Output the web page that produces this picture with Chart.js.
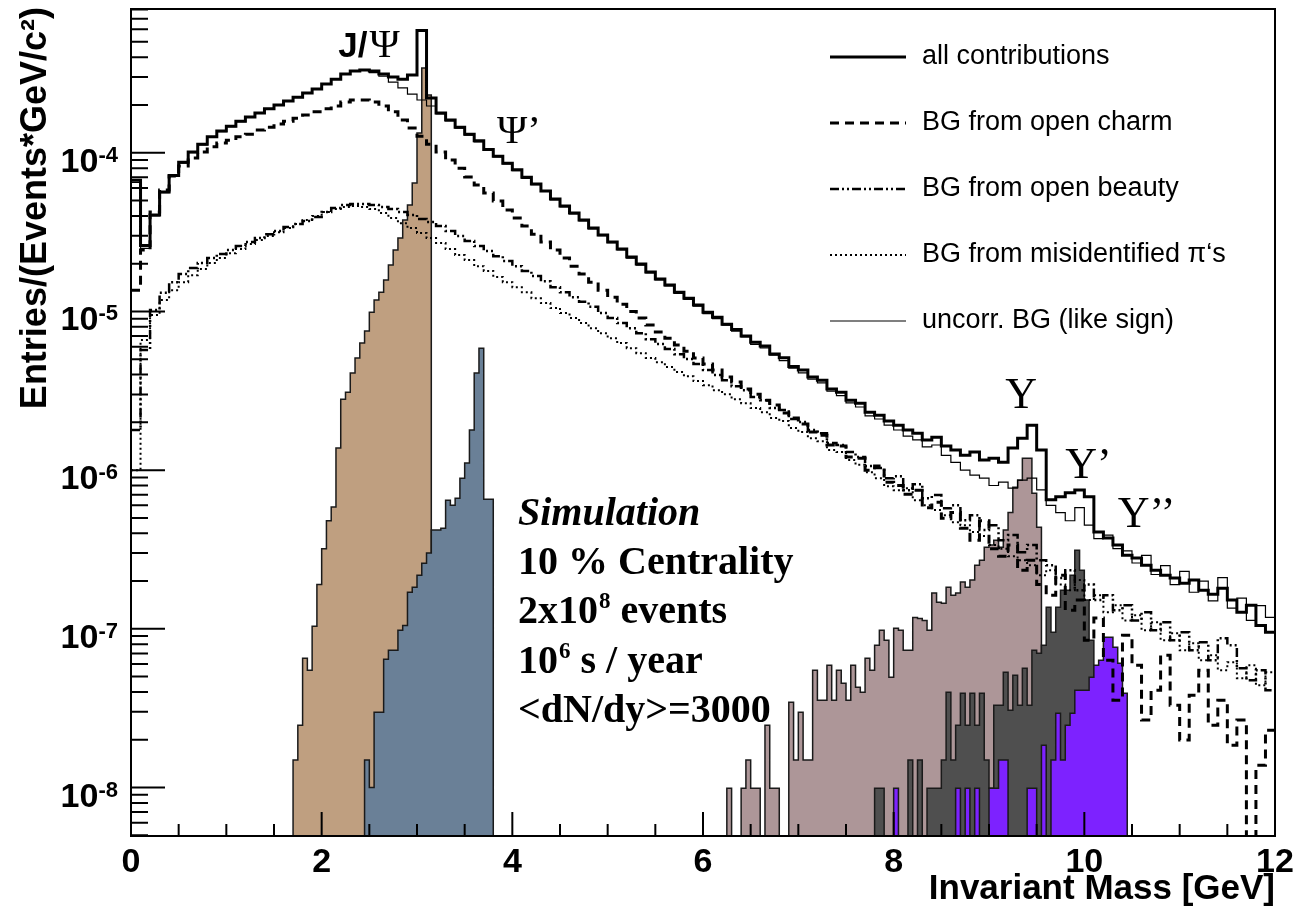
<!DOCTYPE html>
<html>
<head>
<meta charset="utf-8">
<title>Dilepton invariant mass spectrum</title>
<script src="https://cdn.jsdelivr.net/npm/chart.js@4.4.1/dist/chart.umd.min.js"></script>
<style>
  html, body { margin: 0; padding: 0; background: #fff; }
  canvas { display: block; }
</style>
</head>
<body>
<canvas id="massChart" width="1296" height="914"></canvas>
<script>
// background curves: 0.1 GeV bins starting at 0 GeV
const bgStart = 0, bgWidth = 0.1;
// signal peaks: 0.05 GeV bins
const sigWidth = 0.05;

const allContrib = [
  6.7e-5, 2.6e-5, 4.05e-5, 5.65e-5, 7.2e-5, 8.7e-5, 1.01e-4, 1.13e-4, 1.26e-4, 1.37e-4,
  1.47e-4, 1.58e-4, 1.68e-4, 1.78e-4, 1.89e-4, 2.0e-4, 2.12e-4, 2.24e-4, 2.38e-4, 2.52e-4,
  2.71e-4, 2.91e-4, 3.13e-4, 3.27e-4, 3.32e-4, 3.27e-4, 3.13e-4, 3.0e-4, 2.91e-4, 3.09e-4,
  5.9e-4, 2.21e-4, 1.78e-4, 1.61e-4, 1.45e-4, 1.31e-4, 1.19e-4, 1.05e-4, 9.5e-5, 8.6e-5,
  7.8e-5, 7.0e-5, 6.35e-5, 5.74e-5, 5.11e-5, 4.61e-5, 4.17e-5, 3.77e-5, 3.35e-5, 3.03e-5,
  2.74e-5, 2.47e-5, 2.2e-5, 1.99e-5, 1.77e-5, 1.6e-5, 1.47e-5, 1.32e-5, 1.21e-5, 1.1e-5,
  9.9e-6, 9.2e-6, 8.3e-6, 7.7e-6, 7.0e-6, 6.4e-6, 6.05e-6, 5.4e-6, 5.1e-6, 4.5e-6,
  4.27e-6, 3.86e-6, 3.69e-6, 3.24e-6, 3.1e-6, 2.76e-6, 2.64e-6, 2.32e-6, 2.22e-6, 2.04e-6,
  1.92e-6, 1.79e-6, 1.71e-6, 1.55e-6, 1.61e-6, 1.42e-6, 1.34e-6, 1.24e-6, 1.3e-6, 1.16e-6,
  1.19e-6, 1.12e-6, 1.38e-6, 1.59e-6, 1.92e-6, 1.34e-6, 6.5e-7, 6.8e-7, 7.2e-7, 7.5e-7,
  6.8e-7, 4.07e-7, 3.73e-7, 3.37e-7, 2.91e-7, 2.79e-7, 2.52e-7, 2.34e-7, 2.18e-7, 2.09e-7,
  1.94e-7, 2.03e-7, 1.75e-7, 1.65e-7, 1.8e-7, 1.52e-7, 1.27e-7, 1.41e-7, 1.05e-7, 9.5e-8
];

const openCharm = [
  1.36e-5, 2.44e-5, 4.23e-5, 5.82e-5, 7.13e-5, 8.25e-5, 9.26e-5, 1.01e-4, 1.09e-4, 1.15e-4,
  1.2e-4, 1.26e-4, 1.31e-4, 1.39e-4, 1.45e-4, 1.52e-4, 1.58e-4, 1.65e-4, 1.73e-4, 1.81e-4,
  1.89e-4, 1.97e-4, 2.09e-4, 2.15e-4, 2.15e-4, 2.09e-4, 1.97e-4, 1.81e-4, 1.61e-4, 1.43e-4,
  1.27e-4, 1.13e-4, 1.01e-4, 9.0e-5, 8.0e-5, 7.03e-5, 6.26e-5, 5.57e-5, 4.96e-5, 4.35e-5,
  3.88e-5, 3.45e-5, 3.07e-5, 2.74e-5, 2.44e-5, 2.17e-5, 1.93e-5, 1.72e-5, 1.53e-5, 1.36e-5,
  1.23e-5, 1.11e-5, 1.0e-5, 9.08e-6, 8.2e-6, 7.41e-6, 6.79e-6, 6.14e-6, 5.62e-6, 5.08e-6,
  4.66e-6, 4.27e-6, 3.86e-6, 3.59e-6, 3.24e-6, 3.01e-6, 2.76e-6, 2.57e-6, 2.29e-6, 2.13e-6,
  1.95e-6, 1.74e-6, 1.66e-6, 1.44e-6, 1.42e-6, 1.21e-6, 1.19e-6, 1.0e-6, 1.06e-6, 8.4e-7,
  8.0e-7, 7.06e-7, 7.48e-7, 5.8e-7, 6.28e-7, 4.98e-7, 5.4e-7, 4.31e-7, 3.62e-7, 4.8e-7,
  3.2e-7, 2.87e-7, 3.37e-7, 2.34e-7, 2.71e-7, 1.9e-7, 1.63e-7, 2.18e-7, 1.31e-7, 1.52e-7,
  8.48e-8, 1.17e-7, 6.34e-8, 3.55e-8, 9.12e-8, 5.9e-8, 2.66e-8, 4.1e-8, 6.82e-8, 3.3e-8,
  1.99e-8, 3.82e-8, 5.49e-8, 2.47e-8, 3.55e-8, 1.85e-8, 2.66e-8, 0, 1.38e-8, 2.3e-8
];

const openBeauty = [
  1.79e-6, 5.71e-6, 1.02e-5, 1.31e-5, 1.53e-5, 1.72e-5, 1.88e-5, 2.02e-5, 2.17e-5, 2.3e-5,
  2.44e-5, 2.58e-5, 2.74e-5, 2.9e-5, 3.07e-5, 3.21e-5, 3.4e-5, 3.55e-5, 3.71e-5, 3.93e-5,
  4.23e-5, 4.48e-5, 4.68e-5, 4.75e-5, 4.75e-5, 4.68e-5, 4.55e-5, 4.42e-5, 4.23e-5, 4.05e-5,
  3.82e-5, 3.66e-5, 3.45e-5, 3.21e-5, 2.99e-5, 2.78e-5, 2.58e-5, 2.4e-5, 2.23e-5, 2.08e-5,
  1.93e-5, 1.8e-5, 1.67e-5, 1.55e-5, 1.42e-5, 1.32e-5, 1.23e-5, 1.15e-5, 1.07e-5, 9.76e-6,
  9.08e-6, 8.45e-6, 7.85e-6, 7.3e-6, 6.69e-6, 6.23e-6, 5.79e-6, 5.38e-6, 5.01e-6, 4.66e-6,
  4.27e-6, 3.97e-6, 3.69e-6, 3.38e-6, 3.19e-6, 2.89e-6, 2.76e-6, 2.46e-6, 2.39e-6, 2.1e-6,
  2.01e-6, 1.79e-6, 1.71e-6, 1.48e-6, 1.44e-6, 1.3e-6, 1.21e-6, 1.06e-6, 1.03e-6, 8.9e-7,
  9.16e-7, 7.48e-7, 8.16e-7, 6.66e-7, 6.96e-7, 5.76e-7, 6.0e-7, 4.84e-7, 5.2e-7, 4.19e-7,
  4.5e-7, 3.62e-7, 3.9e-7, 3.04e-7, 3.37e-7, 2.71e-7, 2.52e-7, 2.09e-7, 2.34e-7, 1.75e-7,
  1.9e-7, 1.52e-7, 1.63e-7, 1.31e-7, 1.41e-7, 1.13e-7, 1.27e-7, 9.8e-8, 1.1e-7, 8.48e-8,
  9.5e-8, 7.34e-8, 8.24e-8, 6.34e-8, 8.73e-8, 7.89e-8, 5.65e-8, 4.75e-8, 5.49e-8, 4.1e-8
];

const misidPions = [
  1.0e-6, 6.6e-6, 9.48e-6, 1.18e-5, 1.36e-5, 1.53e-5, 1.69e-5, 1.85e-5, 2.02e-5, 2.17e-5,
  2.33e-5, 2.47e-5, 2.66e-5, 2.82e-5, 2.99e-5, 3.16e-5, 3.35e-5, 3.55e-5, 3.77e-5, 3.99e-5,
  4.23e-5, 4.42e-5, 4.55e-5, 4.61e-5, 4.55e-5, 4.42e-5, 4.17e-5, 3.88e-5, 3.6e-5, 3.35e-5,
  3.12e-5, 2.9e-5, 2.7e-5, 2.47e-5, 2.27e-5, 2.11e-5, 1.93e-5, 1.8e-5, 1.65e-5, 1.53e-5,
  1.42e-5, 1.32e-5, 1.21e-5, 1.13e-5, 1.05e-5, 9.76e-6, 9.08e-6, 8.45e-6, 7.85e-6, 7.3e-6,
  6.79e-6, 6.32e-6, 5.87e-6, 5.46e-6, 5.08e-6, 4.79e-6, 4.46e-6, 4.15e-6, 3.91e-6, 3.64e-6,
  3.43e-6, 3.19e-6, 3.01e-6, 2.8e-6, 2.64e-6, 2.46e-6, 2.32e-6, 2.13e-6, 2.04e-6, 1.84e-6,
  1.74e-6, 1.59e-6, 1.52e-6, 1.34e-6, 1.3e-6, 1.16e-6, 1.08e-6, 9.71e-7, 8.9e-7, 7.93e-7,
  7.48e-7, 7.7e-7, 6.47e-7, 6.0e-7, 5.6e-7, 5.2e-7, 4.7e-7, 4.5e-7, 4.07e-7, 3.84e-7,
  3.37e-7, 3.2e-7, 2.87e-7, 2.71e-7, 2.52e-7, 2.18e-7, 2.34e-7, 1.9e-7, 1.75e-7, 2.03e-7,
  1.52e-7, 1.63e-7, 1.27e-7, 1.41e-7, 1.13e-7, 1.22e-7, 9.8e-8, 1.1e-7, 8.48e-8, 9.39e-8,
  7.34e-8, 8.12e-8, 6.34e-8, 6.82e-8, 5.49e-8, 6.16e-8, 4.89e-8, 5.9e-8, 4.41e-8, 5.33e-8
];

const uncorrLikeSign = [
  6.5e-5, 2.5e-5, 4.0e-5, 5.6e-5, 7.1e-5, 8.6e-5, 1.0e-4, 1.12e-4, 1.25e-4, 1.36e-4,
  1.46e-4, 1.57e-4, 1.67e-4, 1.77e-4, 1.88e-4, 1.99e-4, 2.11e-4, 2.23e-4, 2.37e-4, 2.51e-4,
  2.7e-4, 2.9e-4, 3.12e-4, 3.26e-4, 3.3e-4, 3.2e-4, 3.04e-4, 2.79e-4, 2.56e-4, 2.34e-4,
  2.15e-4, 1.97e-4, 1.76e-4, 1.59e-4, 1.43e-4, 1.29e-4, 1.17e-4, 1.04e-4, 9.4e-5, 8.5e-5,
  7.7e-5, 6.9e-5, 6.3e-5, 5.7e-5, 5.05e-5, 4.55e-5, 4.12e-5, 3.72e-5, 3.31e-5, 3.0e-5,
  2.71e-5, 2.44e-5, 2.17e-5, 1.96e-5, 1.75e-5, 1.58e-5, 1.45e-5, 1.3e-5, 1.19e-5, 1.08e-5,
  9.7e-6, 9.0e-6, 8.2e-6, 7.5e-6, 6.9e-6, 6.2e-6, 5.9e-6, 5.3e-6, 4.9e-6, 4.4e-6,
  4.1e-6, 3.75e-6, 3.55e-6, 3.15e-6, 2.95e-6, 2.65e-6, 2.5e-6, 2.2e-6, 2.1e-6, 1.92e-6,
  1.79e-6, 1.64e-6, 1.55e-6, 1.4e-6, 1.44e-6, 1.24e-6, 1.12e-6, 1.0e-6, 9.3e-7, 8.9e-7,
  8.0e-7, 8.4e-7, 7.7e-7, 8.65e-7, 8.9e-7, 7.5e-7, 6.0e-7, 5.4e-7, 4.8e-7, 5.8e-7,
  4.5e-7, 3.7e-7, 3.9e-7, 3.2e-7, 3.1e-7, 2.6e-7, 2.9e-7, 2.2e-7, 2.5e-7, 1.9e-7,
  2.3e-7, 1.7e-7, 2.0e-7, 1.5e-7, 2.1e-7, 1.35e-7, 1.56e-7, 1.13e-7, 1.4e-7, 1.18e-7
];

// J/psi signal, bins from 1.70 GeV
const jpsiStart = 1.70;
const jpsiSignal = [
  1.49e-8, 2.47e-8, 6.53e-8, 5.49e-8, 1.04e-7, 1.9e-7, 3.2e-7, 4.8e-7, 5.85e-7, 1.38e-6,
  2.8e-6, 3.1e-6, 4.09e-6, 5.08e-6, 6.32e-6, 7.52e-6, 9.9e-6, 1.18e-5, 1.32e-5, 1.58e-5,
  1.96e-5, 2.44e-5, 2.9e-5, 3.77e-5, 4.68e-5, 6.44e-5, 1.33e-4, 3.42e-4, 2.31e-4
];

// psi' signal, bins from 2.45 GeV
const psiPrimeStart = 2.45;
const psiPrimeSignal = [
  1.49e-8, 1.0e-8, 2.98e-8, 2.98e-8, 6.44e-8, 7.34e-8, 7.34e-8, 9.8e-8, 1.05e-7, 1.7e-7,
  1.83e-7, 2.18e-7, 2.59e-7, 3.0e-7, 4.19e-7, 4.19e-7, 4.31e-7, 6.47e-7, 6.0e-7, 6.66e-7,
  8.9e-7, 1.11e-6, 1.79e-6, 4.09e-6, 5.87e-6, 6.56e-7, 6.56e-7
];

// Upsilon(1S), bins from 6.25 GeV
const ups1Start = 6.25;
const ups1Signal = [
  9.9e-9, 0, 0, 9.9e-9, 1.49e-8, 9.9e-9, 9.9e-9, 0, 2.47e-8, 9.9e-9,
  9.9e-9, 0, 0, 3.45e-8, 1.49e-8, 2.98e-8, 1.49e-8, 1.49e-8, 5.49e-8, 3.55e-8,
  3.55e-8, 5.9e-8, 3.55e-8, 5.49e-8, 4.54e-8, 3.55e-8, 5.9e-8, 4.29e-8, 3.99e-8, 6.53e-8,
  5.49e-8, 7.89e-8, 9.8e-8, 8.48e-8, 4.96e-8, 1.01e-7, 9.8e-8, 7.34e-8, 7.34e-8, 1.18e-7,
  1.16e-7, 1.13e-7, 9.8e-8, 1.68e-7, 1.47e-7, 1.45e-7, 1.83e-7, 1.63e-7, 1.68e-7, 1.97e-7,
  1.83e-7, 2.03e-7, 2.52e-7, 2.71e-7, 3.27e-7, 3.37e-7, 3.62e-7, 3.27e-7, 4.19e-7, 5.4e-7,
  7.81e-7, 8.65e-7, 1.19e-6, 1.19e-6, 7.16e-7, 4.37e-7
];

// Upsilon(2S), bins from 7.80 GeV
const ups2Start = 7.80;
const ups2Signal = [
  9.9e-9, 9.9e-9, 0, 0, 0, 0, 0, 1.49e-8, 0, 1.49e-8,
  0, 9.9e-9, 9.9e-9, 9.9e-9, 1.49e-8, 3.99e-8, 1.49e-8, 2.47e-8, 3.93e-8, 2.47e-8,
  3.93e-8, 2.47e-8, 3.93e-8, 1.49e-8, 9.9e-9, 3.3e-8, 3.3e-8, 5.33e-8, 3.07e-8, 5.1e-8,
  3.3e-8, 5.65e-8, 3.3e-8, 7.34e-8, 7.02e-8, 7.89e-8, 1.37e-7, 9.5e-8, 1.37e-7, 1.75e-7,
  1.75e-7, 2.18e-7, 3.13e-7, 2.34e-7, 1.52e-7, 8.48e-8, 3.55e-8
];

// Upsilon(3S), bins from 8.00 GeV
const ups3Start = 8.00;
const ups3Signal = [
  9.9e-9, 0, 0, 0, 0, 0, 0, 0, 0, 0,
  0, 0, 0, 9.9e-9, 0, 9.9e-9, 0, 9.9e-9, 0, 0,
  9.9e-9, 9.9e-9, 1.49e-8, 1.49e-8, 0, 0, 0, 0, 9.9e-9, 9.9e-9,
  0, 1.85e-8, 0, 1.49e-8, 2.94e-8, 1.49e-8, 2.47e-8, 2.94e-8, 4.1e-8, 4.1e-8,
  4.1e-8, 4.96e-8, 5.9e-8, 6.34e-8, 8.86e-8, 8.86e-8, 7.66e-8, 6.07e-8, 3.93e-8
];

const xTickValues = [0, 2, 4, 6, 8, 10, 12];
const yTickPowers = [-8, -7, -6, -5, -4];
const legendLabels = ['all contributions', 'BG from open charm', 'BG from open beauty',
  'BG from misidentified \u03c0\u2018s', 'uncorr. BG (like sign)'];

const FLOOR = 1e-12; // empty bins sit below the axis minimum

function histLine(start, width, values) {
  const pts = values.map((v, i) => ({ x: start + i * width, y: v > 0 ? v : FLOOR }));
  pts.push({ x: start + values.length * width, y: pts[pts.length - 1].y });
  return pts;
}
function histFilled(start, width, values) {
  const pts = histLine(start, width, values);
  pts[pts.length - 1].y = FLOOR;
  pts.unshift({ x: start, y: FLOOR });
  return pts;
}

function lineSet(label, values, width, dash, order) {
  return {
    label, data: histLine(bgStart, bgWidth, values), borderColor: '#000', borderWidth: width,
    borderDash: dash, fill: false, stepped: true, pointRadius: 0, order, clip: 0,
    borderCapStyle: 'butt', borderJoinStyle: 'miter'
  };
}
function fillSet(label, start, values, color, order) {
  return {
    label, data: histFilled(start, sigWidth, values), borderColor: '#1a1a1a', borderWidth: 1.5,
    backgroundColor: color, fill: 'start', stepped: true, pointRadius: 0, order, clip: 0
  };
}

const datasets = [
  lineSet(legendLabels[0], allContrib, 3, [], 0),
  lineSet(legendLabels[4], uncorrLikeSign, 1.2, [], 1),
  lineSet(legendLabels[1], openCharm, 3, [9, 6], 2),
  lineSet(legendLabels[2], openBeauty, 2.5, [9, 3, 2, 3, 2, 3], 3),
  lineSet(legendLabels[3], misidPions, 2, [2, 3], 4),
  fillSet('Upsilon(3S)', ups3Start, ups3Signal, '#7d22ff', 5),
  fillSet('Upsilon(2S)', ups2Start, ups2Signal, '#4f4f4f', 6),
  fillSet('Upsilon(1S)', ups1Start, ups1Signal, '#ad9698', 7),
  fillSet('psi(2S)', psiPrimeStart, psiPrimeSignal, '#6a8097', 8),
  fillSet('J/psi', jpsiStart, jpsiSignal, '#bf9f80', 9)
];

const SANS = '"Liberation Sans", Arial, Helvetica, sans-serif';
const SERIF = '"Liberation Serif", "Times New Roman", serif';

// draw pieces of text in a row; each piece may be raised (superscript)
function textRun(ctx, x, y, pieces) {
  let cx = x;
  for (const p of pieces) {
    ctx.font = p.font;
    ctx.fillText(p.t, cx, y - (p.up || 0));
    cx += ctx.measureText(p.t).width + (p.gap || 0);
  }
}

const rootStyle = {
  id: 'rootStyle',
  afterDatasetsDraw(chart) {
    const { ctx, chartArea: a, scales: { x, y } } = chart;
    ctx.save();
    ctx.fillStyle = '#000';
    ctx.strokeStyle = '#000';

    // frame
    ctx.lineWidth = 2;
    ctx.strokeRect(a.left, a.top, a.right - a.left, a.bottom - a.top);

    // ticks pointing into the frame
    ctx.beginPath();
    for (let e = -9; e <= -3; e++) {
      for (let m = 1; m <= 9; m++) {
        const v = m * Math.pow(10, e);
        if (v < y.min || v > y.max) continue;
        const py = y.getPixelForValue(v);
        ctx.moveTo(a.left, py);
        ctx.lineTo(a.left + (m === 1 ? 34 : 17), py);
      }
    }
    for (let i = 0; i <= 24; i++) {
      const px = x.getPixelForValue(i * 0.5);
      ctx.moveTo(px, a.bottom);
      ctx.lineTo(px, a.bottom - (i % 4 === 0 ? 24 : 12));
    }
    ctx.stroke();

    // tick labels
    ctx.textBaseline = 'alphabetic';
    ctx.textAlign = 'center';
    ctx.font = 'bold 34px ' + SANS;
    for (const v of xTickValues) {
      ctx.fillText(String(v), x.getPixelForValue(v), a.bottom + 36);
    }
    ctx.textAlign = 'right';
    for (const p of yTickPowers) {
      const py = y.getPixelForValue(Math.pow(10, p));
      ctx.font = 'bold 22px ' + SANS;
      const exp = String(p);
      const ew = ctx.measureText(exp).width;
      ctx.fillText(exp, 118, py + 9);
      ctx.font = 'bold 34px ' + SANS;
      ctx.fillText('10', 118 - ew, py + 19);
    }

    // axis titles
    ctx.font = 'bold 35px ' + SANS;
    ctx.textAlign = 'right';
    ctx.fillText('Invariant Mass [GeV]', a.right, 899);
    ctx.save();
    ctx.translate(46, a.top - 2);
    ctx.rotate(-Math.PI / 2);
    ctx.font = 'bold 36px ' + SANS;
    ctx.fillText('Entries/(Events*GeV/c\u00b2)', 0, 0);
    ctx.restore();

    // legend
    ctx.textAlign = 'left';
    ctx.textBaseline = 'middle';
    const order = [0, 2, 3, 4, 1];
    order.forEach((di, row) => {
      const ds = chart.data.datasets[di];
      const ly = a.top + 48 + row * 66;
      ctx.save();
      ctx.lineWidth = ds.borderWidth;
      ctx.setLineDash(ds.borderDash);
      ctx.beginPath();
      ctx.moveTo(830, ly);
      ctx.lineTo(906, ly);
      ctx.stroke();
      ctx.restore();
      ctx.font = '27px ' + SANS;
      ctx.fillText(ds.label, 922, ly);
    });

    // resonance labels, anchored in data coordinates
    ctx.textBaseline = 'alphabetic';
    ctx.textAlign = 'left';
    textRun(ctx, x.getPixelForValue(2.175), y.getPixelForValue(4.0e-4), [
      { t: 'J/', font: 'bold 35px ' + SANS, gap: 2 },
      { t: '\u03a8', font: '41px ' + SERIF }
    ]);
    textRun(ctx, x.getPixelForValue(3.84), y.getPixelForValue(1.15e-4), [
      { t: '\u03a8\u2019', font: '41px ' + SERIF }
    ]);
    ctx.font = '44px ' + SERIF;
    ctx.fillText('\u03a5', x.getPixelForValue(9.17), y.getPixelForValue(2.46e-6));
    ctx.fillText('\u03a5\u2019', x.getPixelForValue(9.8), y.getPixelForValue(8.9e-7));
    ctx.fillText('\u03a5\u2019\u2019', x.getPixelForValue(10.35), y.getPixelForValue(4.37e-7));

    // simulation conditions
    const bx = 518;
    const big = 'bold 40px ' + SERIF;
    const sup = 'bold 23px ' + SERIF;
    ctx.font = 'italic bold 40px ' + SERIF;
    ctx.fillText('Simulation', bx, 525);
    ctx.font = big;
    ctx.fillText('10 % Centrality', bx, 574);
    textRun(ctx, bx, 623, [
      { t: '2x10', font: big, gap: 1 },
      { t: '8', font: sup, up: 15 },
      { t: ' events', font: big }
    ]);
    textRun(ctx, bx, 673, [
      { t: '10', font: big, gap: 1 },
      { t: '6', font: sup, up: 15 },
      { t: ' s / year', font: big }
    ]);
    ctx.font = big;
    ctx.fillText('<dN/dy>=3000', bx, 722);

    ctx.restore();
  }
};

new Chart(document.getElementById('massChart'), {
  type: 'line',
  data: { datasets },
  options: {
    responsive: false,
    animation: false,
    devicePixelRatio: 1,
    layout: { padding: { left: 131, right: 21, top: 9, bottom: 78 } },
    scales: {
      x: { type: 'linear', min: 0, max: 12, display: false },
      y: { type: 'logarithmic', min: 4.95e-9, max: 8.05e-4, display: false }
    },
    plugins: {
      legend: { display: false },
      tooltip: { enabled: false }
    },
    elements: { point: { radius: 0 }, line: { tension: 0 } }
  },
  plugins: [rootStyle]
});
</script>
</body>
</html>
